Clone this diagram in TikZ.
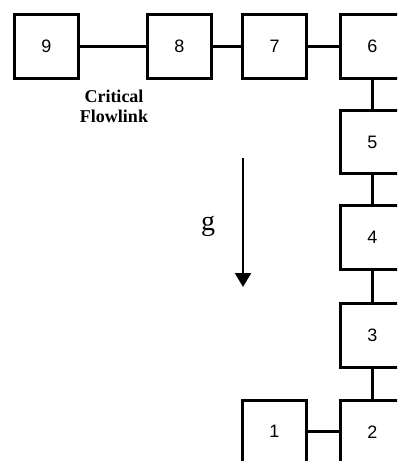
\documentclass[tikz,border=0pt]{standalone}
\usepackage{fontspec}
\setmainfont{Liberation Serif}
\newfontfamily\arialf{Liberation Sans}
\usetikzlibrary{arrows.meta}
\begin{document}
\begin{tikzpicture}[x=1pt,y=-1pt,
  blk/.style={draw, line width=3pt, minimum width=63.5pt, minimum height=63.5pt, inner sep=0pt, font=\arialf\fontsize{18}{20}\selectfont},
  link/.style={line width=3pt},
  lbl/.style={font=\bfseries\fontsize{18}{20}\selectfont, anchor=base, inner sep=0pt}]
\path[use as bounding box] (0,0) rectangle (397,461);
\clip (0,0) rectangle (397,461);
\node[blk] (n9) at (46.5,46.3) {9};
\node[blk] (n8) at (179.5,46.3) {8};
\node[blk] (n7) at (274.7,46.3) {7};
\node[blk] (n6) at (372.3,46.3) {6};
\node[blk] (n5) at (372.3,142) {5};
\node[blk] (n4) at (372.3,237.5) {4};
\node[blk] (n3) at (372.3,335.3) {3};
\node[blk] (n2) at (372.3,431.8) {2};
\node[blk] (n1) at (274.5,431.8) {1};
\draw[link] (n9) -- (n8);
\draw[link] (n8) -- (n7);
\draw[link] (n7) -- (n6);
\draw[link] (n6) -- (n5);
\draw[link] (n5) -- (n4);
\draw[link] (n4) -- (n3);
\draw[link] (n3) -- (n2);
\draw[link] (n1) -- (n2);
\node[lbl] (cf1) at (114,102) {Critical};
\node[lbl] (cf2) at (114,122) {Flowlink};
\node[font=\fontsize{28}{30}\selectfont, inner sep=0pt] (g) at (208,226) {g};
\coordinate (gs) at (243,158);
\coordinate (ge) at (243,287);
\draw[line width=2.5pt, -{Triangle[width=16pt,length=14pt]}] (gs) -- (ge);
\end{tikzpicture}
\end{document}
